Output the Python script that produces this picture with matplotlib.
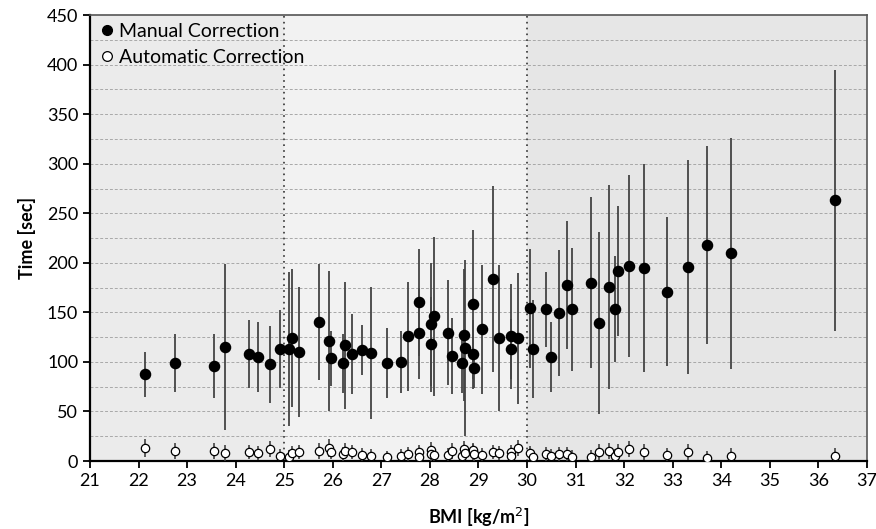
import numpy as np
import matplotlib.pyplot as plt
from matplotlib.lines import Line2D

plt.rcParams['font.family'] = ['Lato', 'DejaVu Sans']

# BMI of each case (same for manual and automatic)
bmi = [22.13, 22.75, 23.56, 23.79, 24.27, 24.46, 24.71, 24.91, 25.10, 25.15,
       25.31, 25.72, 25.93, 25.96, 26.22, 26.26, 26.40, 26.61, 26.79, 27.12,
       27.40, 27.54, 27.77, 27.78, 28.02, 28.03, 28.08, 28.38, 28.45, 28.67,
       28.71, 28.72, 28.88, 28.89, 28.90, 29.07, 29.29, 29.42, 29.67, 29.68,
       29.82, 30.06, 30.12, 30.40, 30.49, 30.65, 30.82, 30.92, 31.31, 31.49,
       31.69, 31.81, 31.88, 32.10, 32.41, 32.88, 33.31, 33.71, 34.19, 36.34]

manual_mean = [87.5, 99, 96, 115, 108, 105, 97.5, 113, 113, 124,
               110, 140, 121, 103.6, 98.6, 117, 108, 112, 109, 99,
               100, 126, 160, 129, 138, 118, 146, 129.5, 106, 99,
               127, 114, 158, 107.6, 93.5, 133, 183.6, 124, 126, 113,
               124, 154, 113, 153, 105, 149, 177.6, 153, 180, 139,
               176, 153, 192, 197, 195, 171, 195.5, 218, 209.6, 263]

manual_sd = [22.5, 29.5, 32, 84, 34, 35.5, 38.7, 39, 78, 69.5,
             65.5, 58.5, 71, 28, 30, 64, 40, 25, 67, 35.5,
             31.7, 55, 54, 46, 62, 48, 80, 52.8, 38.7, 30,
             66.5, 88.7, 75.5, 35, 20, 65, 93.5, 73.5, 53, 30,
             66, 60, 49.5, 38, 35, 63.5, 65, 62.3, 86, 92,
             103, 53.5, 65.5, 92, 105, 75, 108, 99.6, 116.8, 132]

auto_mean = [12.8, 10, 10, 7.7, 9, 7.7, 12, 5.4, 4.4, 7.7,
             9.5, 10, 12.8, 9, 7, 10, 9.5, 6, 5.4, 4.4,
             5.4, 7, 9, 4.4, 11, 7, 6, 6, 10, 5,
             12, 7.7, 9, 11, 7, 6, 9.5, 7.7, 9, 5,
             12.8, 7.7, 4.4, 6.8, 5.4, 6.8, 6.8, 4.4, 3.8, 9.5,
             10, 5, 9.5, 11.8, 9.5, 6, 9, 3.5, 5.4, 5.4]

auto_sd = [9, 8, 8, 8, 7, 7, 8, 7, 7, 7,
           7, 8, 9, 7, 7, 8, 7, 7, 7, 6,
           7, 7, 7, 7, 8, 7, 7, 7, 8, 7,
           8, 7, 8, 7, 7, 7, 7, 7, 7, 7,
           8, 7, 7, 7, 7, 7, 7, 7, 7, 8,
           8, 7, 8, 8, 8, 7, 8, 7, 8, 8]

fig = plt.figure(figsize=(8.76, 5.29), dpi=100)
ax = fig.add_axes([0.1027, 0.1285, 0.887, 0.843])

# shaded BMI bands
ax.axvspan(21, 25, color='#ebebeb', zorder=0, lw=0)
ax.axvspan(25, 30, color='#f2f2f2', zorder=0, lw=0)
ax.axvspan(30, 37, color='#e6e6e6', zorder=0, lw=0)

for y in np.arange(25, 450, 25):
    ax.axhline(y, color='#a8a8a8', linestyle=(0, (3, 2)), linewidth=0.7, zorder=1)
for x in [25, 30]:
    ax.axvline(x, color='#333333', linestyle=(0, (1, 2.5)), linewidth=1.2, zorder=1)

ax.errorbar(bmi, manual_mean, yerr=manual_sd, fmt='o', color='black',
            ecolor='#444444', elinewidth=1.3, capsize=0, markersize=7.3, zorder=3)
ax.errorbar(bmi, auto_mean, yerr=auto_sd, fmt='o', mfc='white', mec='black',
            mew=0.9, ecolor='#444444', elinewidth=1.2, capsize=0, markersize=6,
            zorder=3)

ax.set_xlim(21, 37)
ax.set_ylim(0, 450)
ax.set_xticks(np.arange(21, 38, 1))
ax.set_yticks(np.arange(0, 451, 50))
ax.tick_params(axis='both', labelsize=13, direction='out', length=5, width=1.3)

for s in ['left', 'bottom']:
    ax.spines[s].set_linewidth(1.6)
    ax.spines[s].set_color('black')
for s in ['top', 'right']:
    ax.spines[s].set_linewidth(1.2)
    ax.spines[s].set_color('#555555')

ax.set_xlabel('BMI [kg/m$^2$]', fontsize=13, fontweight='bold', labelpad=12)
ax.set_ylabel('Time [sec]', fontsize=13, fontweight='bold', labelpad=8)

handles = [Line2D([], [], ls='none', marker='o', color='black', markersize=7),
           Line2D([], [], ls='none', marker='o', mfc='white', mec='black',
                  mew=0.9, markersize=7)]
ax.legend(handles, ['Manual Correction', 'Automatic Correction'],
          loc='upper left', frameon=False, fontsize=14, handletextpad=0.1,
          borderaxespad=0.0, handlelength=1.0, labelspacing=0.45)

fig.savefig('out.png', dpi=100)
